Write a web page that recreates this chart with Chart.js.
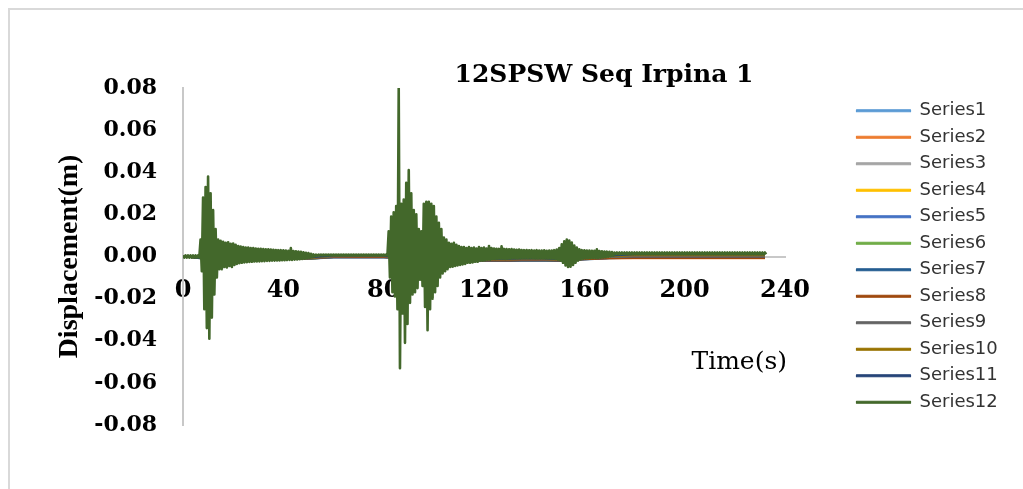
<!DOCTYPE html>
<html>
<head>
<meta charset="utf-8">
<script src="https://cdn.jsdelivr.net/npm/chart.js@4/dist/chart.umd.min.js"></script>
<style>
  html, body { margin: 0; padding: 0; background: #fff; overflow: hidden; }
  #wrap { position: relative; width: 1023px; height: 489px; }
  #frame { position: absolute; left: 8px; top: 8px; width: 1100px; height: 600px;
           border-left: 2px solid #d9d9d9; border-top: 2px solid #d9d9d9; }
  canvas { position: absolute; left: 0; top: 0; }
</style>
</head>
<body>
<div id="wrap">
  <div id="frame"></div>
  <canvas id="chart" width="1023" height="489"></canvas>
</div>
<script>
const chartTitle = '12SPSW Seq Irpina 1';
const xTitle = 'Time(s)';
const yTitle = 'Displacement(m)';

const seriesNames = ['Series1', 'Series2', 'Series3', 'Series4', 'Series5', 'Series6',
    'Series7', 'Series8', 'Series9', 'Series10', 'Series11', 'Series12'];
const seriesColors = ['#5B9BD5', '#ED7D31', '#A5A5A5', '#FFC000', '#4472C4', '#70AD47',
    '#255E91', '#9E480E', '#636363', '#997300', '#264478', '#43682B'];

const xTicks = [0, 40, 80, 120, 160, 200, 240];
const yTicks = [-0.08, -0.06, -0.04, -0.02, 0, 0.02, 0.04, 0.06, 0.08];

// Series12 (top floor): positive and negative peaks, one pair per second, t = 0..232 s
const s12Upper = [
    // 0-9
    0.0005, 0.0005, 0.0005, 0.0005, 0.0005, 0.0005, 0.0005, 0.008, 0.028, 0.033,
    // 10-19
    0.038, 0.030, 0.022, 0.013, 0.008, 0.0075, 0.007, 0.0065, 0.0068, 0.006,
    // 20-29
    0.0062, 0.0055, 0.005, 0.0047, 0.0045, 0.0043, 0.0042, 0.004, 0.004, 0.0038,
    // 30-39
    0.0037, 0.0036, 0.0035, 0.0034, 0.0034, 0.0033, 0.0032, 0.0031, 0.003, 0.003,
    // 40-49
    0.0029, 0.0028, 0.0027, 0.004, 0.0026, 0.0025, 0.0024, 0.0022, 0.002, 0.0018,
    // 50-59
    0.0016, 0.0013, 0.001, 0.0009, 0.0009, 0.0009, 0.0009, 0.0009, 0.0009, 0.0009,
    // 60-69
    0.0009, 0.0009, 0.0009, 0.0009, 0.0009, 0.0009, 0.0009, 0.0009, 0.0009, 0.0009,
    // 70-79
    0.0009, 0.0009, 0.0009, 0.0009, 0.0009, 0.0009, 0.0009, 0.0009, 0.0009, 0.0009,
    // 80-89
    0.0009, 0.0009, 0.012, 0.019, 0.021, 0.024, 0.080, 0.025, 0.027, 0.035,
    // 90-99
    0.041, 0.030, 0.022, 0.020, 0.013, 0.012, 0.025, 0.026, 0.026, 0.025,
    // 100-109
    0.024, 0.019, 0.016, 0.013, 0.009, 0.008, 0.0065, 0.006, 0.0065, 0.0055,
    // 110-119
    0.005, 0.0045, 0.0045, 0.004, 0.0045, 0.004, 0.0042, 0.0038, 0.0045, 0.004,
    // 120-129
    0.0042, 0.0038, 0.005, 0.004, 0.0038, 0.0037, 0.0036, 0.0048, 0.0036, 0.0035,
    // 130-139
    0.0034, 0.0035, 0.0033, 0.0032, 0.0033, 0.0031, 0.003, 0.0031, 0.0029, 0.003,
    // 140-149
    0.0028, 0.003, 0.0028, 0.0028, 0.0029, 0.0027, 0.0028, 0.0028, 0.003, 0.0033,
    // 150-159
    0.004, 0.0058, 0.0072, 0.008, 0.0076, 0.0066, 0.0052, 0.0042, 0.0034, 0.003,
    // 160-169
    0.0029, 0.0028, 0.0028, 0.0027, 0.0027, 0.0034, 0.0026, 0.0025, 0.0024, 0.0023,
    // 170-179
    0.0022, 0.0021, 0.0019, 0.0019, 0.0019, 0.0019, 0.0019, 0.0019, 0.0019, 0.0019,
    // 180-189
    0.0019, 0.0019, 0.0019, 0.0019, 0.0019, 0.0019, 0.0019, 0.0019, 0.0019, 0.0019,
    // 190-199
    0.0019, 0.0019, 0.0019, 0.0019, 0.0019, 0.0019, 0.0019, 0.0019, 0.0019, 0.0019,
    // 200-209
    0.0019, 0.0019, 0.0019, 0.0019, 0.0019, 0.0019, 0.0019, 0.0019, 0.0019, 0.0019,
    // 210-219
    0.0019, 0.0019, 0.0019, 0.0019, 0.0019, 0.0019, 0.0019, 0.0019, 0.0019, 0.0019,
    // 220-229
    0.0019, 0.0019, 0.0019, 0.0019, 0.0019, 0.0019, 0.0019, 0.0019, 0.0019, 0.0019,
    // 230-232
    0.0019, 0.0019, 0.0019
];
const s12Lower = [
    // 0-9
    -0.0005, -0.0005, -0.0005, -0.0005, -0.0005, -0.0005, -0.0005, -0.007, -0.025, -0.034,
    // 10-19
    -0.039, -0.029, -0.018, -0.010, -0.006, -0.006, -0.005, -0.0052, -0.0045, -0.005,
    // 20-29
    -0.004, -0.0035, -0.0032, -0.003, -0.0028, -0.0027, -0.0026, -0.0025, -0.0024, -0.0023,
    // 30-39
    -0.0023, -0.0022, -0.0022, -0.0021, -0.0021, -0.002, -0.002, -0.0019, -0.0019, -0.0018,
    // 40-49
    -0.0018, -0.0017, -0.0016, -0.0016, -0.0015, -0.0014, -0.0013, -0.0012, -0.001, -0.0008,
    // 50-59
    -0.0006, -0.0003, 0, 0.0003, 0.0005, 0.0005, 0.0005, 0.0005, 0.0005, 0.0005,
    // 60-69
    0.0005, 0.0005, 0.0005, 0.0005, 0.0005, 0.0005, 0.0005, 0.0005, 0.0005, 0.0005,
    // 70-79
    0.0005, 0.0005, 0.0005, 0.0005, 0.0005, 0.0005, 0.0005, 0.0005, 0.0005, 0.0005,
    // 80-89
    0.0005, 0.0005, -0.010, -0.017, -0.019, -0.025, -0.053, -0.027, -0.041, -0.032,
    // 90-99
    -0.022, -0.018, -0.017, -0.015, -0.011, -0.014, -0.024, -0.035, -0.025, -0.020,
    // 100-109
    -0.017, -0.014, -0.010, -0.008, -0.007, -0.006, -0.005, -0.0048, -0.0045, -0.0042,
    // 110-119
    -0.004, -0.0038, -0.0035, -0.003, -0.003, -0.0028, -0.0025, -0.0025, -0.002, -0.002,
    // 120-129
    -0.0018, -0.0015, -0.0015, -0.0012, -0.0012, -0.001, -0.001, -0.001, -0.0012, -0.001,
    // 130-139
    -0.001, -0.0008, -0.0008, -0.0008, -0.0008, -0.0007, -0.0007, -0.0007, -0.0007, -0.0007,
    // 140-149
    -0.0008, -0.0008, -0.0008, -0.0008, -0.0009, -0.0009, -0.001, -0.001, -0.0012, -0.0015,
    // 150-159
    -0.002, -0.003, -0.0042, -0.005, -0.0048, -0.004, -0.003, -0.002, -0.0013, -0.001,
    // 160-169
    -0.0009, -0.0008, -0.0008, -0.0007, -0.0007, -0.0007, -0.0006, -0.0005, -0.0003, -0.0001,
    // 170-179
    0.0002, 0.0004, 0.0011, 0.0011, 0.0011, 0.0011, 0.0011, 0.0011, 0.0011, 0.0011,
    // 180-189
    0.0011, 0.0011, 0.0011, 0.0011, 0.0011, 0.0011, 0.0011, 0.0011, 0.0011, 0.0011,
    // 190-199
    0.0011, 0.0011, 0.0011, 0.0011, 0.0011, 0.0011, 0.0011, 0.0011, 0.0011, 0.0011,
    // 200-209
    0.0011, 0.0011, 0.0011, 0.0011, 0.0011, 0.0011, 0.0011, 0.0011, 0.0011, 0.0011,
    // 210-219
    0.0011, 0.0011, 0.0011, 0.0011, 0.0011, 0.0011, 0.0011, 0.0011, 0.0011, 0.0011,
    // 220-229
    0.0011, 0.0011, 0.0011, 0.0011, 0.0011, 0.0011, 0.0011, 0.0011, 0.0011, 0.0011,
    // 230-232
    0.0011, 0.0011, 0.0011
];

// Lower floors: mostly hidden behind Series12, only their small offsets show
const minorTimes = [0, 10, 20, 30, 40, 50, 60, 70, 80, 90, 100, 110, 120, 130, 140, 150, 160, 170, 180, 190, 200, 210, 220, 230, 232];
const series1 = [0, -0.0006, -0.0006, -0.0006, -0.0008, -0.001, -0.0003, -0.0003, -0.0002, -0.0008, -0.0018, -0.0014, -0.0012, -0.0012, -0.0011, -0.0013, -0.0009, -0.0005, -0.0003, -0.0003, -0.0003, -0.0003, -0.0003, -0.0003, -0.0003];
const series2 = [0, -0.0008, -0.0008, -0.0007, -0.001, -0.0012, -0.0005, -0.0005, -0.0005, -0.001, -0.0025, -0.002, -0.0018, -0.0018, -0.0016, -0.0018, -0.0013, -0.001, -0.0009, -0.0009, -0.0009, -0.0009, -0.0009, -0.0009, -0.0009];
const series3 = [0, -0.0008, -0.001, -0.0008, -0.0009, -0.001, -0.0004, -0.0004, -0.0004, -0.0009, -0.0022, -0.0017, -0.0016, -0.0015, -0.0014, -0.0016, -0.0011, -0.0006, -0.0004, -0.0004, -0.0004, -0.0004, -0.0004, -0.0004, -0.0004];
const series4 = [0, -0.0009, -0.0012, -0.0009, -0.001, -0.0011, -0.0005, -0.0005, -0.0005, -0.001, -0.0024, -0.0019, -0.0017, -0.0017, -0.0015, -0.0017, -0.0012, -0.0007, -0.0005, -0.0005, -0.0005, -0.0005, -0.0005, -0.0005, -0.0005];
const series5 = [0, -0.001, -0.0014, -0.001, -0.0011, -0.0012, -0.0006, -0.0006, -0.0006, -0.0011, -0.0028, -0.0022, -0.002, -0.0021, -0.0019, -0.002, -0.0014, -0.0008, -0.0006, -0.0006, -0.0006, -0.0006, -0.0006, -0.0006, -0.0006];
const series6 = [0, -0.001, -0.0015, -0.0011, -0.0012, -0.0013, -0.0002, -0.0002, -0.0001, -0.0011, -0.0026, -0.002, -0.0019, -0.0019, -0.0018, -0.0021, -0.0013, -0.0004, 0.0003, 0.0003, 0.0003, 0.0003, 0.0003, 0.0003, 0.0003];
const series7 = [0, -0.0011, -0.0016, -0.0012, -0.0012, -0.0012, -0.0005, -0.0005, -0.0005, -0.0012, -0.003, -0.0024, -0.0022, -0.0023, -0.002, -0.0022, -0.0015, -0.0009, -0.0007, -0.0007, -0.0007, -0.0007, -0.0007, -0.0007, -0.0007];
const series8 = [0, -0.0012, -0.0017, -0.0012, -0.0011, -0.0011, -0.0004, -0.0004, -0.0004, -0.0012, -0.0027, -0.0021, -0.0019, -0.002, -0.0018, -0.002, -0.0014, -0.001, -0.0008, -0.0008, -0.0008, -0.0008, -0.0008, -0.0008, -0.0008];
const series9 = [0, -0.0012, -0.0018, -0.0011, -0.001, -0.001, -0.0001, 0, 0, -0.0012, -0.0024, -0.0018, -0.0016, -0.0016, -0.0015, -0.0017, -0.001, -0.0003, 0.0001, 0.0001, 0.0001, 0.0001, 0.0001, 0.0001, 0.0001];
const series10 = [0, -0.0013, -0.0019, -0.0011, -0.0009, -0.0008, 0.0002, 0.0002, 0.0002, -0.0013, -0.0022, -0.0016, -0.0014, -0.0014, -0.0012, -0.0015, -0.0008, 0, 0.0005, 0.0005, 0.0005, 0.0005, 0.0005, 0.0005, 0.0005];
const series11 = [0, -0.0014, -0.002, -0.001, -0.0008, -0.0006, 0.0003, 0.0003, 0.0003, -0.0014, -0.002, -0.0014, -0.0012, -0.0012, -0.001, -0.0013, -0.0006, 0.0002, 0.001, 0.001, 0.001, 0.001, 0.001, 0.001, 0.001];
const minorSeries = [series1, series2, series3, series4, series5, series6, series7, series8, series9, series10, series11];

// interleave the up and down peaks so the trace zig-zags like the record
const s12Points = [];
s12Upper.forEach((v, t) => {
    s12Points.push({ x: t, y: v });
    s12Points.push({ x: t + 0.5, y: s12Lower[t] });
});

const datasets = minorSeries.map((vals, i) => ({
    label: seriesNames[i],
    data: minorTimes.map((t, k) => ({ x: t, y: vals[k] })),
}));
datasets.push({ label: seriesNames[11], data: s12Points });
datasets.forEach((ds, i) => {
    ds.borderColor = seriesColors[i];
    ds.backgroundColor = seriesColors[i];
    ds.borderWidth = i === 11 ? 2.6 : 1.5;
    ds.pointRadius = 0;
    ds.tension = 0;
    ds.borderJoinStyle = 'round';
    ds.order = seriesNames.length - i; // later series drawn on top
});

const chartTexts = {
    id: 'chartTexts',
    afterDraw(chart) {
        const ctx = chart.ctx;
        const xs = chart.scales.x;
        ctx.save();
        ctx.fillStyle = '#000';
        ctx.textBaseline = 'middle';
        ctx.font = 'bold 25px "DejaVu Serif"';
        ctx.textAlign = 'center';
        ctx.fillText(chartTitle, 604, 75);
        ctx.font = '25px "DejaVu Serif"';
        ctx.textAlign = 'right';
        ctx.fillText(xTitle, xs.right + 2, 362);
        ctx.restore();
    }
};

new Chart(document.getElementById('chart').getContext('2d'), {
    type: 'line',
    data: { datasets: datasets },
    options: {
        responsive: false,
        animation: false,
        events: [],
        layout: { padding: { left: 53, top: 88, right: 16, bottom: 64 } },
        plugins: {
            title: { display: false },
            tooltip: { enabled: false },
            legend: {
                position: 'right',
                fullSize: false,
                align: 'center',
                labels: {
                    boxWidth: 54,
                    boxHeight: 2,
                    padding: 8.5,
                    color: '#333333',
                    font: { family: 'DejaVu Sans', size: 18 },
                    // same legend line thickness for every series
                    generateLabels: (chart) => Chart.defaults.plugins.legend.labels.generateLabels(chart)
                        .map(item => Object.assign(item, { lineWidth: 1.2 })),
                    sort: (a, b) => a.datasetIndex - b.datasetIndex,
                },
            },
        },
        scales: {
            x: {
                type: 'linear',
                position: { y: 0 },
                min: 0,
                max: 240,
                afterBuildTicks: (scale) => { scale.ticks = xTicks.map(v => ({ value: v })); },
                grid: { display: false, drawTicks: false },
                border: { display: true, color: '#c8c8c8', width: 2 },
                ticks: {
                    padding: 20,
                    color: '#000',
                    maxRotation: 0,
                    font: { family: 'DejaVu Serif', size: 24, weight: 'bold' },
                },
            },
            y: {
                position: 'left',
                min: -0.08,
                max: 0.08,
                afterBuildTicks: (scale) => { scale.ticks = yTicks.map(v => ({ value: v })); },
                afterFit: (scale) => { scale.width = 130; },
                grid: { display: false, drawTicks: false },
                border: { display: true, color: '#c8c8c8', width: 2 },
                ticks: {
                    padding: 26,
                    color: '#000',
                    font: { family: 'DejaVu Serif', size: 22, weight: 'bold' },
                    callback: (v) => v.toFixed(2),
                },
                title: {
                    display: true,
                    text: yTitle,
                    color: '#000',
                    padding: { top: 0, bottom: 4 },
                    font: { family: 'Liberation Serif', size: 28, weight: 'bold' },
                },
            },
            y2: {
                position: 'right',
                grid: { display: false },
                border: { display: false },
                ticks: { display: false },
                afterFit: (scale) => { scale.width = 63; },
            },
        },
    },
    plugins: [chartTexts],
});
</script>
</body>
</html>
